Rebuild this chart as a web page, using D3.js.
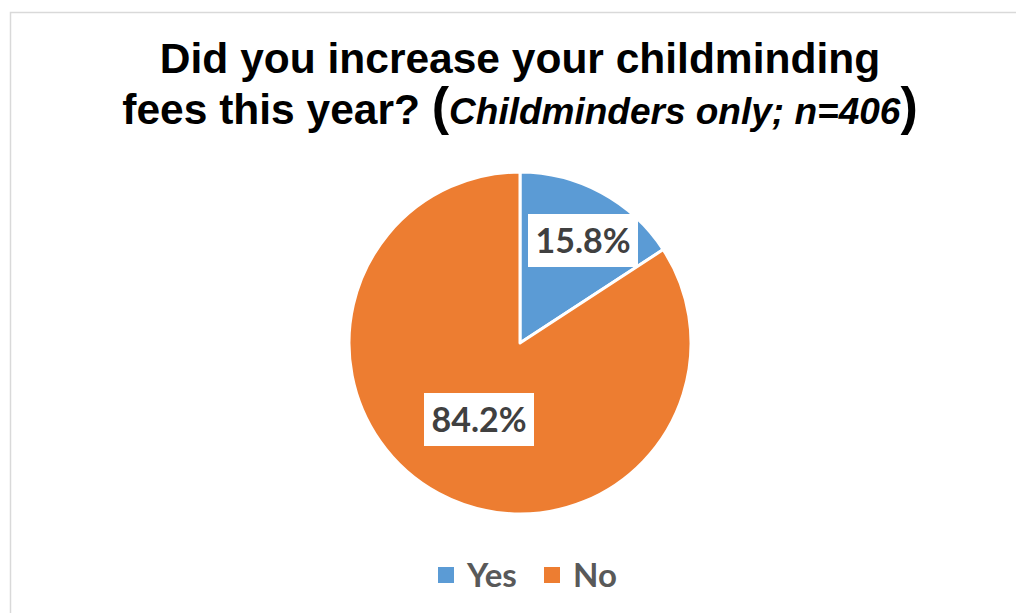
<!DOCTYPE html>
<html>
<head>
<meta charset="utf-8">
<script src="https://cdn.jsdelivr.net/npm/d3@7"></script>
<style>
  html, body { margin: 0; padding: 0; background: #fff; }
  svg { display: block; }
</style>
</head>
<body>
<div id="chart"></div>
<script>
// Data
const categories = ["Yes", "No"];
const shares = [15.8, 84.2];
const sliceColors = ["#5B9BD5", "#ED7D31"];

const width = 1016, height = 613;

const svg = d3.select("#chart").append("svg")
    .attr("width", width)
    .attr("height", height);

// chart area border (runs off right and bottom edges)
svg.append("rect")
    .attr("x", 10.5).attr("y", 12.5)
    .attr("width", 1020).attr("height", 620)
    .attr("fill", "#fff")
    .attr("stroke", "#d9d9d9")
    .attr("stroke-width", 1.5);

// Title, two lines, mixed styles on line 2
const title = svg.append("text")
    .attr("text-anchor", "middle")
    .style("font-family", "'Liberation Sans', Arial, sans-serif")
    .style("font-weight", "bold")
    .style("fill", "#000");

title.append("tspan")
    .attr("x", 520).attr("y", 73)
    .style("font-size", "42.5px")
    .text("Did you increase your childminding");

const line2 = title.append("tspan").attr("x", 520).attr("y", 124);
line2.append("tspan").style("font-size", "42.5px").text("fees this year? ");
line2.append("tspan").style("font-size", "52px").text("(");
line2.append("tspan").style("font-size", "37px").style("font-style", "italic").text("Childminders only; n=406");
line2.append("tspan").style("font-size", "52px").text(")");

// Pie
const cx = 520, cy = 343, radius = 171;

const pie = d3.pie().sort(null).value(d => d.value);
const arcs = pie(categories.map((c, i) => ({ name: c, value: shares[i] })));

const arc = d3.arc().innerRadius(0).outerRadius(radius);
const colour = d3.scaleOrdinal().domain(categories).range(sliceColors);

const g = svg.append("g").attr("transform", `translate(${cx},${cy})`);

g.selectAll("path")
    .data(arcs)
    .enter().append("path")
    .attr("d", arc)
    .attr("fill", d => colour(d.data.name))
    .attr("stroke", "#fff")
    .attr("stroke-width", 3)
    .attr("stroke-linejoin", "round");

// data labels in white boxes
const labelFont = "Lato, 'Open Sans', sans-serif";

const labels = g.selectAll(".label")
    .data(arcs)
    .enter().append("g")
    .attr("class", "label")
    .attr("transform", (d, i) => {
        // Yes label sits near the slice, No label toward lower-left
        const p = i === 0 ? [63, -102] : [-41, 77];
        return `translate(${p[0]},${p[1]})`;
    });

labels.append("rect")
    .attr("x", -55).attr("y", -27)
    .attr("width", 110).attr("height", 53)
    .attr("fill", "#fff");

labels.append("text")
    .attr("text-anchor", "middle")
    .attr("dy", "0.36em")
    .style("font-family", labelFont)
    .style("font-weight", "bold")
    .style("font-size", "34px")
    .style("fill", "#404040")
    .text(d => d3.format(".1f")(d.data.value) + "%");

// Legend
const legendItems = [
    { name: categories[0], x: 438 },
    { name: categories[1], x: 544 }
];
const legend = svg.append("g").attr("transform", "translate(0,575)");
const item = legend.selectAll("g")
    .data(legendItems)
    .enter().append("g")
    .attr("transform", d => `translate(${d.x},0)`);

item.append("rect")
    .attr("x", 0).attr("y", -8)
    .attr("width", 16).attr("height", 16)
    .attr("fill", d => colour(d.name));

item.append("text")
    .attr("x", 29)
    .attr("dy", "0.36em")
    .style("font-family", labelFont)
    .style("font-weight", "bold")
    .style("font-size", "33px")
    .style("fill", "#595959")
    .text(d => d.name);
</script>
</body>
</html>
